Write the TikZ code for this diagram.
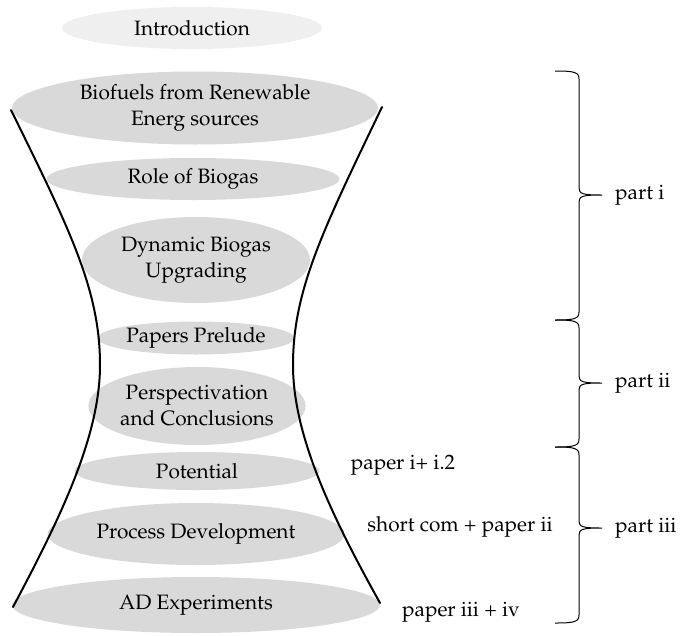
\documentclass[tikz,border=0pt]{standalone}
\usepackage[T1]{fontenc}
\usepackage{mathpazo}
\usetikzlibrary{shapes.geometric,positioning}

\definecolor{stagegray}{HTML}{D9D9D9}
\definecolor{introgray}{HTML}{EFEFEF}

\tikzset{
	stage/.style={ellipse, fill=stagegray, inner sep=0pt, align=center,
		font=\fontsize{20.8}{26}\selectfont},
	paperlabel/.style={inner sep=0pt, font=\fontsize{20.8}{26}\selectfont},
	partlabel/.style={inner sep=0pt, anchor=west, font=\fontsize{20.8}{26}\selectfont},
	funnel/.style={line width=2pt, line cap=round},
	braceline/.style={line width=1pt}
}

\begin{document}
\begin{tikzpicture}[x=1pt, y=-1pt]

	\useasboundingbox (0,0) rectangle (682,635);

	% stages
	\node[stage, fill=introgray, minimum width=260, minimum height=42] (intro) at (192,28) {Introduction};
	\node[stage, minimum width=366, minimum height=73] (biofuels) at (195,108) {Biofuels from Renewable\\Energ sources};
	\node[stage, minimum width=293, minimum height=42] (role) at (193,179) {Role of Biogas};
	\node[stage, minimum width=228, minimum height=86] (dynamic) at (196,260) {Dynamic Biogas\\Upgrading};
	\node[stage, minimum width=195, minimum height=33] (prelude) at (196,338) {Papers Prelude};
	\node[stage, minimum width=201, minimum height=78] (persp) at (197,406) {Perspectivation\\and Conclusions};
	\node[stage, minimum width=245, minimum height=38] (potential) at (197,471) {Potential};
	\node[stage, minimum width=297, minimum height=62] (process) at (196,534) {Process Development};
	\node[stage, minimum width=368, minimum height=56] (adexp) at (196,605) {AD Experiments};

	% funnel sides
	\draw[funnel] (11,110) .. controls (70,230) and (100,290) .. (100,365)
		.. controls (100,435) and (62,515) .. (13,607);
	\draw[funnel] (382,107) .. controls (323,230) and (293,290) .. (293,365)
		.. controls (293,435) and (331,515) .. (380,603);

	% papers
	\node[paperlabel] (paperA) at (403,465) {paper i+ i.2};
	\node[paperlabel] (paperB) at (460,527) {short com + paper ii};
	\node[paperlabel] (paperC) at (461,612) {paper iii + iv};

	% braces
	\foreach \top/\tip/\bot/\lbl/\nm in {71/195/320/part i/pi, 320/383/447/part ii/pii, 447/528/623/part iii/piii}{
		\draw[braceline] (555,\top) .. controls (574,\top) and (579,\top+1) .. (579,\top+8)
			-- (579,\tip-7) .. controls (579,\tip-1) and (583,\tip) .. (602,\tip) coordinate (tip\nm)
			.. controls (583,\tip) and (579,\tip+1) .. (579,\tip+7)
			-- (579,\bot-8) .. controls (579,\bot-1) and (574,\bot) .. (555,\bot);
		\node[partlabel, right=13pt of tip\nm] (\nm) {\lbl};
	}

\end{tikzpicture}
\end{document}
